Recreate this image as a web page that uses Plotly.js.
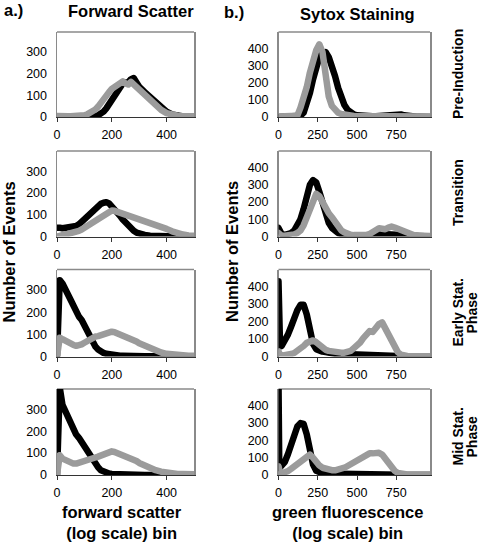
<!DOCTYPE html>
<html>
<head>
<meta charset="utf-8">
<script src="https://cdn.plot.ly/plotly-3.0.1.min.js"></script>
<style>
html,body{margin:0;padding:0;background:#fff;}
#chart{width:480px;height:542px;}
.scatterlayer .js-line{stroke-linejoin:round;stroke-linecap:round;}
</style>
</head>
<body>
<div id="chart"></div>
<script>
// ---------- DATA ----------
const rowLabelLines = [["Pre-Induction"], ["Transition"], ["Early Stat.", "Phase"], ["Mid Stat.", "Phase"]];
const fsTicks = [0, 200, 400];
const gfTicks = [0, 250, 500, 750];
const fsYTicks = [0, 100, 200, 300];
const gfYTicks = [0, 100, 200, 300, 400];

// forward scatter bins (left column)
const fsBins = [0,5,10,20,30,40,50,60,70,80,90,100,110,120,130,140,150,160,170,180,190,200,210,220,230,240,250,260,270,280,290,300,320,340,360,380,400,420,440,460,480,500];

const fsPreBlack  = [0,0,0,0,0,0,0,0,0,0,0,0,1,2,3,5,8,15,25,40,60,85,105,125,140,155,160,160,175,180,160,140,115,90,65,42,25,12,6,3,2,1];
const fsPreGray   = [5,4,4,3,3,3,3,3,4,5,6,8,12,18,25,35,48,62,80,98,115,130,138,150,158,165,155,150,162,150,135,120,95,75,52,33,18,10,6,4,3,3];
const fsTranBlack = [40,42,40,38,40,38,40,42,48,56,68,82,96,108,118,128,140,150,155,158,152,140,128,112,95,78,62,48,36,26,18,12,7,4,2,1,0,0,0,0,0,0];
const fsTranGray  = [0,3,5,8,10,12,14,16,20,26,32,40,48,56,65,72,80,88,96,105,112,120,118,114,110,104,100,96,92,88,84,80,72,62,52,44,35,24,15,9,5,3];
const fsEarlyBlack= [0,250,345,330,310,280,255,225,200,180,165,140,120,95,65,45,32,22,16,12,9,7,5,4,3,3,2,2,2,2,2,1,1,1,1,0,0,0,0,0,0,0];
const fsEarlyGray = [0,60,85,78,70,65,58,52,48,50,55,62,70,80,88,90,92,96,100,105,110,112,110,105,100,98,95,90,82,75,68,60,48,36,26,18,12,8,5,4,3,3];
const fsMidBlack  = [0,300,400,320,290,270,240,205,185,170,150,125,105,85,65,48,35,22,15,10,7,5,4,3,2,2,1,1,0,0,0,0,0,0,0,0,0,0,0,0,0,0];
const fsMidGray   = [0,70,90,75,68,62,56,52,52,55,60,63,66,70,75,80,84,90,96,102,106,108,105,100,96,90,84,80,78,74,64,55,42,30,22,15,10,7,5,4,3,3];

// green fluorescence bins (right column)
const gfBins = [0,5,10,20,40,60,80,100,120,140,160,180,200,220,240,260,280,300,320,340,360,380,400,420,440,460,480,500,520,540,560,580,600,620,640,660,680,700,720,740,760,780,800,820,840,860,880,900,920,940,960];

const gfPreBlack  = [0,0,0,0,0,0,0,0,2,8,25,70,140,220,300,350,375,380,350,300,240,170,110,70,42,25,15,10,7,5,4,4,4,5,7,10,13,16,18,19,18,15,10,6,4,2,1,1,0,0,0];
const gfPreGray   = [3,3,3,3,3,3,3,4,8,55,110,175,260,335,390,425,380,250,120,65,40,25,18,13,9,7,6,5,4,4,4,4,4,4,4,4,4,4,4,3,3,3,3,3,3,3,3,3,3,3,3];
const gfTranBlack = [50,35,25,15,10,12,20,35,60,100,160,240,300,328,315,260,190,125,80,50,32,20,14,10,8,6,5,4,4,4,4,4,5,8,12,15,14,12,10,10,10,9,7,5,3,2,1,0,0,0,0];
const gfTranGray  = [20,12,8,5,4,5,8,12,20,35,65,110,160,210,248,235,200,160,135,112,80,55,35,24,15,10,8,6,5,5,8,15,28,42,48,45,42,52,58,52,44,35,27,18,14,9,6,4,3,3,3];
const gfEarlyBlack= [430,60,58,60,85,125,170,222,265,295,295,240,145,72,42,32,28,25,20,18,16,15,14,13,12,11,10,10,9,8,8,7,6,5,5,4,3,3,2,2,1,0,0,0,0,0,0,0,0,0,0];
const gfEarlyGray = [30,15,8,5,6,10,14,20,30,45,60,78,88,92,82,65,48,38,32,28,25,23,22,22,25,32,48,62,80,105,125,145,140,165,185,195,160,115,78,50,25,10,4,3,2,2,2,2,2,2,2];
const gfMidBlack  = [540,40,45,55,75,120,175,235,280,300,295,235,140,60,25,14,10,8,8,8,8,9,9,9,9,10,10,10,10,10,10,10,10,9,8,7,6,5,4,3,2,1,0,0,0,0,0,0,0,0,0];
const gfMidGray   = [50,25,12,10,15,22,35,50,68,85,100,112,118,100,75,55,42,34,30,28,27,30,35,42,52,62,72,82,92,105,118,125,125,130,128,118,95,70,42,24,12,6,4,3,3,3,3,3,3,3,3];

const panels = [
  {bins: fsBins, black: fsPreBlack,   gray: fsPreGray},
  {bins: gfBins, black: gfPreBlack,   gray: gfPreGray},
  {bins: fsBins, black: fsTranBlack,  gray: fsTranGray},
  {bins: gfBins, black: gfTranBlack,  gray: gfTranGray},
  {bins: fsBins, black: fsEarlyBlack, gray: fsEarlyGray},
  {bins: gfBins, black: gfEarlyBlack, gray: gfEarlyGray},
  {bins: fsBins, black: fsMidBlack,   gray: fsMidGray},
  {bins: gfBins, black: gfMidBlack,   gray: gfMidGray}
];

// ---------- LAYOUT ----------
const W = 480, H = 542;
const FONT = 'Liberation Sans, Arial, Helvetica, sans-serif';
const BLACK = '#000000', GRAY = '#9b9b9b';
const colX = [[57, 194], [278.5, 430]];
const rowY = [[32, 117], [151, 236.5], [269.5, 356.5], [389, 475]];
const px = v => v / W;
const py = v => 1 - v / H;

const traces = [];
const layout = {
  width: W, height: H,
  margin: {l: 0, r: 0, t: 0, b: 0},
  paper_bgcolor: '#fff', plot_bgcolor: '#fff',
  showlegend: false,
  font: {family: FONT, color: '#000', size: 12.5},
  shapes: [], annotations: []
};

panels.forEach((p, i) => {
  const k = i + 1;
  const row = Math.floor(i / 2), col = i % 2;
  const xa = 'x' + (k === 1 ? '' : k), ya = 'y' + (k === 1 ? '' : k);
  traces.push({x: p.bins, y: p.black, xaxis: xa, yaxis: ya, type: 'scatter', mode: 'lines',
    line: {color: BLACK, width: 6.5}, hoverinfo: 'skip'});
  traces.push({x: p.bins, y: p.gray, xaxis: xa, yaxis: ya, type: 'scatter', mode: 'lines',
    line: {color: GRAY, width: 6.5}, hoverinfo: 'skip'});
  const xkey = 'xaxis' + (k === 1 ? '' : k), ykey = 'yaxis' + (k === 1 ? '' : k);
  layout[xkey] = {
    domain: [px(colX[col][0]), px(colX[col][1])],
    anchor: ya,
    range: col === 0 ? [0, 500] : [0, 965],
    tickmode: 'array', tickvals: col === 0 ? fsTicks : gfTicks,
    ticks: 'outside', ticklen: 4, tickcolor: '#333', tickwidth: 1,
    showline: true, linecolor: '#333', linewidth: 1,
    showgrid: false, zeroline: false, layer: 'below traces',
    tickfont: {family: FONT, size: 12.5, color: '#000'},
    ticklabelstandoff: 2, fixedrange: true
  };
  layout[ykey] = {
    domain: [py(rowY[row][1]), py(rowY[row][0])],
    anchor: xa,
    range: col === 0 ? [0, 393] : [0, 497],
    tickmode: 'array', tickvals: col === 0 ? fsYTicks : gfYTicks,
    ticks: '', showline: true, mirror: true, linecolor: '#8a8a8a', linewidth: 1.5,
    showgrid: false, zeroline: false, layer: 'below traces',
    tickfont: {family: FONT, size: 12.5, color: '#000'},
    ticklabelstandoff: 6, fixedrange: true
  };
  layout.shapes.push({type: 'line', layer: 'below',
    xref: xa + ' domain', yref: ya + ' domain', x0: 0, x1: 1, y0: 1, y1: 1,
    line: {color: '#8a8a8a', width: 1.5}});
});

function ann(text, x, y, opts) {
  layout.annotations.push(Object.assign({
    text: text, x: px(x), y: py(y), xref: 'paper', yref: 'paper',
    showarrow: false, xanchor: 'center', yanchor: 'middle',
    font: {family: FONT, size: 16.5, color: '#000'}
  }, opts || {}));
}

ann('<b>a.)</b>', 13, 10);
ann('<b>Forward Scatter</b>', 131, 11.5);
ann('<b>b.)</b>', 234, 12);
ann('<b>Sytox Staining</b>', 357, 13.5);
ann('<b>Number of Events</b>', 8.5, 252, {textangle: -90});
ann('<b>Number of Events</b>', 232, 252, {textangle: -90});
ann('<b>forward scatter<br>(log scale) bin</b>', 122, 522);
ann('<b>green fluorescence<br>(log scale) bin</b>', 347.5, 522);

const rowCenters = [74, 193, 313, 437];
rowLabelLines.forEach((lines, r) => {
  const xs = lines.length === 1 ? [458] : [457.5, 471.5];
  lines.forEach((t, j) => {
    ann('<b>' + t + '</b>', xs[j], rowCenters[r],
      {textangle: -90, font: {family: FONT, size: 14, color: '#000'}});
  });
});

Plotly.newPlot('chart', traces, layout, {staticPlot: true, displayModeBar: false});
</script>
</body>
</html>
